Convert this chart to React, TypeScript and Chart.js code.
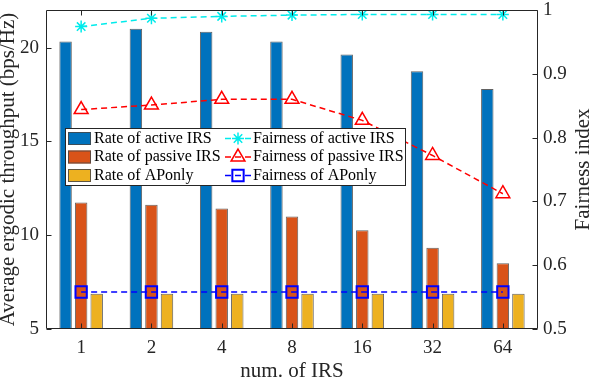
import React, { useEffect, useRef } from 'react';
import { Chart, registerables } from 'chart.js';
import { drawPoint } from 'chart.js/helpers';

Chart.register(...registerables);

const categories = ['1', '2', '4', '8', '16', '32', '64'];
const rateActive = [20.32, 21.0, 20.84, 20.32, 19.63, 18.74, 17.79];
const ratePassive = [11.74, 11.62, 11.42, 11.0, 10.26, 9.33, 8.51];
const rateAPonly = [6.88, 6.88, 6.88, 6.88, 6.88, 6.88, 6.88];
const fairActive = [0.974, 0.987, 0.99, 0.992, 0.993, 0.993, 0.993];
const fairPassive = [0.844, 0.851, 0.86, 0.86, 0.827, 0.772, 0.712];
const fairAPonly = [0.558, 0.558, 0.558, 0.558, 0.558, 0.558, 0.558];
const leftTicks = [5, 10, 15, 20];
const rightTicks = [0.5, 0.6, 0.7, 0.8, 0.9, 1];
const rightTitle = 'Fairness index';

const FONT = "'Liberation Serif', 'Times New Roman', serif";
const AXIS = '#262626';

const frameTicksPlugin = {
  id: 'frameTicks',
  afterDraw(chart: any) {
    const { ctx, chartArea } = chart;
    const { left, right, top, bottom } = chartArea;
    const xs = chart.scales.x;
    const yl = chart.scales.y;
    const yr = chart.scales.y1;
    const L = Math.round(left) + 0.5;
    const R = Math.round(right) - 0.5;
    const T = Math.round(top) + 0.5;
    const B = Math.round(bottom) - 0.5;
    const len = 5;
    ctx.save();
    ctx.strokeStyle = AXIS;
    ctx.lineWidth = 1;
    ctx.setLineDash([]);
    ctx.beginPath();
    ctx.rect(L, T, R - L, B - T);
    leftTicks.forEach((v) => {
      const y = Math.round(yl.getPixelForValue(v)) + 0.5;
      ctx.moveTo(L, y);
      ctx.lineTo(L + len, y);
    });
    rightTicks.forEach((v) => {
      const y = Math.round(yr.getPixelForValue(v)) + 0.5;
      ctx.moveTo(R, y);
      ctx.lineTo(R - len, y);
    });
    categories.forEach((_, i) => {
      const x = Math.round(xs.getPixelForValue(i)) + 0.5;
      ctx.moveTo(x, B);
      ctx.lineTo(x, B - len);
      ctx.moveTo(x, T);
      ctx.lineTo(x, T + len);
    });
    ctx.stroke();

    // right axis title, reading bottom-to-top
    ctx.translate(583, (top + bottom) / 2);
    ctx.rotate(-Math.PI / 2);
    ctx.font = `21px ${FONT}`;
    ctx.fillStyle = AXIS;
    ctx.textAlign = 'center';
    ctx.textBaseline = 'middle';
    ctx.fillText(rightTitle, 0, 0);
    ctx.restore();
  },
};

const legendPlugin = {
  id: 'boxLegend',
  afterDraw(chart: any) {
    const { ctx } = chart;
    const ds = chart.data.datasets;
    const x0 = 65;
    const y0 = 128;
    const x1 = 406;
    const y1 = 186;
    const rows = [138.5, 157, 175.5];
    ctx.save();
    ctx.fillStyle = '#ffffff';
    ctx.fillRect(x0, y0, x1 - x0, y1 - y0);
    ctx.strokeStyle = AXIS;
    ctx.lineWidth = 1;
    ctx.setLineDash([]);
    ctx.strokeRect(x0 + 0.5, y0 + 0.5, x1 - x0 - 1, y1 - y0 - 1);
    ctx.font = `16px ${FONT}`;
    ctx.textBaseline = 'middle';
    ctx.textAlign = 'left';
    for (let i = 0; i < 3; i++) {
      const d = ds[i];
      const y = rows[i];
      ctx.fillStyle = d.backgroundColor;
      ctx.fillRect(68, y - 6.5, 23, 13);
      ctx.strokeStyle = d.borderColor;
      ctx.lineWidth = 1;
      ctx.strokeRect(68.5, y - 6, 22, 12);
      ctx.fillStyle = '#000';
      ctx.fillText(d.label, 94, y);
    }
    for (let i = 3; i < 6; i++) {
      const d = ds[i];
      const y = rows[i - 3];
      ctx.strokeStyle = d.borderColor;
      ctx.lineWidth = d.borderWidth;
      ctx.setLineDash(d.borderDash);
      ctx.beginPath();
      ctx.moveTo(225, y);
      ctx.lineTo(251, y);
      ctx.stroke();
      ctx.setLineDash([]);
      ctx.fillStyle = 'rgba(0,0,0,0)';
      ctx.lineWidth = d.pointBorderWidth;
      drawPoint(ctx, { pointStyle: d.pointStyle, radius: d.pointRadius, rotation: 0, borderWidth: d.pointBorderWidth }, 238, y);
      ctx.fillStyle = '#000';
      ctx.fillText(d.label, 253, y);
    }
    ctx.restore();
  },
};

export default function App() {
  const ref = useRef<HTMLCanvasElement | null>(null);
  useEffect(() => {
    if (!ref.current) return;
    const tickFont = { family: FONT, size: 19 };
    const chart = new Chart(ref.current, {
      type: 'bar',
      data: {
        labels: categories,
        datasets: [
          { type: 'bar', label: 'Rate of active IRS', data: rateActive, backgroundColor: '#0072BD', borderColor: 'rgba(70,70,70,0.85)', borderWidth: 1, yAxisID: 'y', order: 2 },
          { type: 'bar', label: 'Rate of passive IRS', data: ratePassive, backgroundColor: '#D95319', borderColor: 'rgba(70,70,70,0.85)', borderWidth: 1, yAxisID: 'y', order: 2 },
          { type: 'bar', label: 'Rate of APonly', data: rateAPonly, backgroundColor: '#EDB120', borderColor: 'rgba(70,70,70,0.85)', borderWidth: 1, yAxisID: 'y', order: 2 },
          { type: 'line', label: 'Fairness of active IRS', data: fairActive, borderColor: 'rgb(0,235,235)', borderWidth: 1.5, borderDash: [6, 4], pointStyle: 'star', pointRadius: 6, pointBorderWidth: 1.5, pointBorderColor: 'rgb(0,235,235)', pointBackgroundColor: 'rgba(0,0,0,0)', fill: false, tension: 0, yAxisID: 'y1', order: 1 },
          { type: 'line', label: 'Fairness of passive IRS', data: fairPassive, borderColor: '#ff0000', borderWidth: 1.5, borderDash: [6, 4], pointStyle: 'triangle', pointRadius: 8, pointBorderWidth: 1.5, pointBorderColor: '#ff0000', pointBackgroundColor: 'rgba(0,0,0,0)', fill: false, tension: 0, yAxisID: 'y1', order: 1 },
          { type: 'line', label: 'Fairness of APonly', data: fairAPonly, borderColor: '#0000ff', borderWidth: 1.5, borderDash: [6, 4], pointStyle: 'rect', pointRadius: 8, pointBorderWidth: 2, pointBorderColor: '#0000ff', pointBackgroundColor: 'rgba(0,0,0,0)', fill: false, tension: 0, yAxisID: 'y1', order: 1 },
        ],
      } as any,
      options: {
        responsive: false,
        animation: false,
        events: [],
        layout: { padding: { top: 6, left: 0, right: 0, bottom: 0 } },
        plugins: { legend: { display: false }, tooltip: { enabled: false } },
        datasets: { bar: { categoryPercentage: 0.664, barPercentage: 0.8 } },
        scales: {
          x: {
            type: 'category',
            offset: true,
            grid: { display: false, drawTicks: false },
            border: { display: false },
            ticks: { font: tickFont, color: AXIS, padding: 8, autoSkip: false, maxRotation: 0 },
            title: { display: true, text: 'num. of IRS', font: { family: FONT, size: 21, lineHeight: '26px' }, color: AXIS, padding: 0 },
            afterFit: (s: any) => { s.height = 55; s.paddingLeft = 0; s.paddingRight = 0; },
          },
          y: {
            type: 'linear',
            position: 'left',
            min: 5,
            max: 22,
            afterBuildTicks: (s: any) => { s.ticks = leftTicks.map((v) => ({ value: v })); },
            grid: { display: false, drawTicks: false },
            border: { display: false },
            ticks: { font: tickFont, color: AXIS, padding: 7, callback: (v: any) => String(v) },
            title: { display: true, text: 'Average ergodic throughput (bps/Hz)', font: { family: FONT, size: 21, lineHeight: '17px' }, color: AXIS, padding: 0 },
            afterFit: (s: any) => { s.width = 46; s.paddingTop = 0; s.paddingBottom = 0; },
          },
          y1: {
            type: 'linear',
            position: 'right',
            min: 0.5,
            max: 1,
            afterBuildTicks: (s: any) => { s.ticks = rightTicks.map((v) => ({ value: v })); },
            grid: { display: false, drawTicks: false },
            border: { display: false },
            ticks: { font: tickFont, color: AXIS, padding: 5, callback: (v: any) => String(+Number(v).toFixed(1)) },
            title: { display: false },
            afterFit: (s: any) => { s.width = 60; s.paddingTop = 0; s.paddingBottom = 0; },
          },
        },
      } as any,
      plugins: [frameTicksPlugin, legendPlugin],
    });
    return () => chart.destroy();
  }, []);
  return (
    <div style={{ position: 'absolute', left: 0, top: 0, width: 598, height: 384, background: '#fff' }}>
      <canvas ref={ref} width={598} height={384} style={{ display: 'block', width: 598, height: 384 }} />
    </div>
  );
}
